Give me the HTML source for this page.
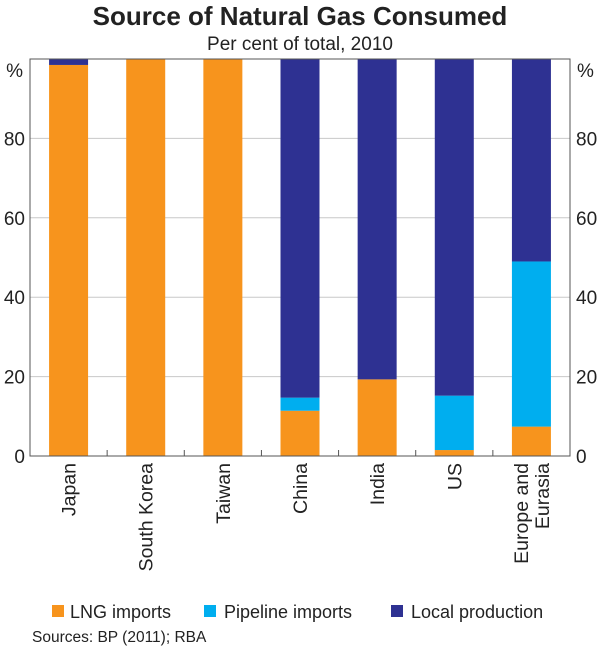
<!DOCTYPE html>
<html><head><meta charset="utf-8"><style>
body{margin:0;background:#fff;font-family:"Liberation Sans",Arial,sans-serif}
svg text{font-family:"Liberation Sans",Arial,sans-serif;fill:#222}
</style></head><body>
<svg id="c" width="600" height="650" viewBox="0 0 600 650">
<text x="300" y="25" text-anchor="middle" font-size="26" font-weight="bold">Source of Natural Gas Consumed</text>
<text x="300" y="50" text-anchor="middle" font-size="19">Per cent of total, 2010</text>
<g id="grid"></g><g id="bars"></g><g id="axes"></g>
<g>
<rect x="52" y="605" width="12" height="12" fill="#F7941D"/>
<text x="70" y="618" font-size="18">LNG imports</text>
<rect x="204" y="605" width="12" height="12" fill="#00AEEF"/>
<text x="224" y="618" font-size="18">Pipeline imports</text>
<rect x="391" y="605" width="12" height="12" fill="#2E3192"/>
<text x="411" y="618" font-size="18">Local production</text>
</g>
<text x="32" y="642" font-size="15.5">Sources: BP (2011); RBA</text>
</svg>
<script>
const categories=["Japan","South Korea","Taiwan","China","India","US","Europe and|Eurasia"];
const lng=[98.5,100,100,11.4,19.3,1.5,7.4];
const pipeline=[0,0,0,3.3,0,13.7,41.6];
const local=[1.5,0,0,85.3,80.7,84.8,51];
const yTicks=[0,20,40,60,80];
const L=30,R=570,T=59,B=456;
const ns="http://www.w3.org/2000/svg";
const y=v=>B-(B-T)*v/100;
const band=(R-L)/categories.length;
const x=i=>L+band*i+band/2;
const bw=39;
function mk(p,tag,a){const e=document.createElementNS(ns,tag);for(const k in a)e.setAttribute(k,a[k]);document.getElementById(p).appendChild(e);return e;}
yTicks.forEach(t=>{
 if(t>0){const g=mk("grid","line",{x1:L,x2:R,y1:y(t),y2:y(t),stroke:"#c8c8c8","stroke-width":1});
 
 }
 const a=mk("axes","text",{x:L-5,y:y(t)+7,"text-anchor":"end","font-size":"19"});a.textContent=t;
 
 
 const b=mk("axes","text",{x:R+6,y:y(t)+7,"font-size":"19"});b.textContent=t;
 
 
});
const ua=mk("axes","text",{x:L-7,y:T+18,"text-anchor":"end","font-size":"19"});ua.textContent="%";


const ub=mk("axes","text",{x:R+7,y:T+18,"font-size":"19"});ub.textContent="%";


const series=[["lng",lng,"#F7941D"],["pipeline",pipeline,"#00AEEF"],["local",local,"#2E3192"]];
categories.forEach((c,i)=>{
 let base=0;
 series.forEach(([n,arr,col])=>{
  const v=arr[i];
  if(v>0){const r=mk("bars","rect",{x:x(i)-bw/2,y:y(base+v),width:bw,height:y(base)-y(base+v),fill:col});
  
  }
  base+=v;
 });
 const parts=c.split("|");
 parts.forEach((p,j)=>{
  const off=(j-(parts.length-1)/2)*21;
  const t=mk("axes","text",{transform:`translate(${x(i)+7+off},463) rotate(-90)`,"text-anchor":"end","font-size":"19.5"});
  t.textContent=p;
  
  
 });
 if(i>0){const tk=mk("axes","line",{x1:L+band*i,x2:L+band*i,y1:B,y2:B-6,stroke:"#555"});
 
 }
});
const f=mk("axes","rect",{x:L,y:T,width:R-L,height:B-T,fill:"none",stroke:"#555","stroke-width":1});


</script>
</body></html>
